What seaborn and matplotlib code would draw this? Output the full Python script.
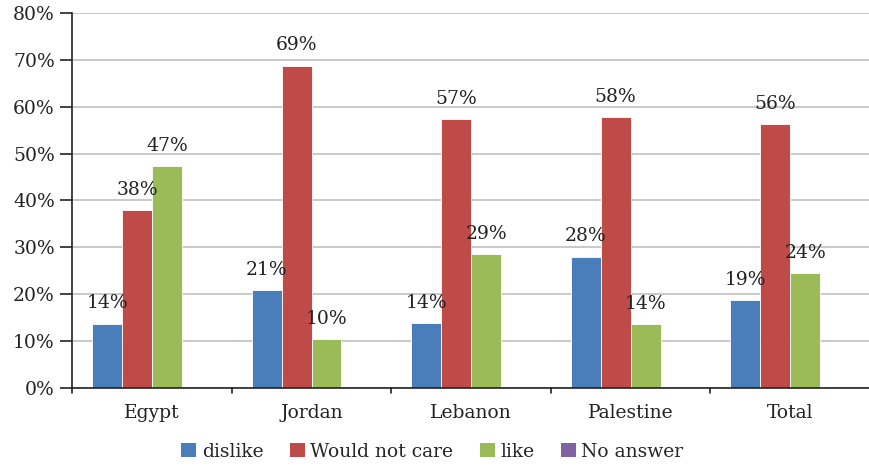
import matplotlib
matplotlib.use("Agg")
import matplotlib.pyplot as plt
import seaborn as sns
import pandas as pd
from matplotlib.patches import Patch

categories = ["Egypt", "Jordan", "Lebanon", "Palestine", "Total"]
series = ["dislike", "Would not care", "like", "No answer"]
dislike = [13.7, 20.8, 13.8, 28.0, 18.8]
would_not_care = [38.0, 68.8, 57.3, 57.7, 56.3]
like = [47.3, 10.3, 28.6, 13.6, 24.4]
no_answer = [0, 0, 0, 0, 0]
labels_dislike = ["14%", "21%", "14%", "28%", "19%"]
labels_wnc = ["38%", "69%", "57%", "58%", "56%"]
labels_like = ["47%", "10%", "29%", "14%", "24%"]
yticks = [0, 10, 20, 30, 40, 50, 60, 70, 80]
colors = ["#4A7EBB", "#BE4B48", "#9BBB59", "#7F63A2"]

rows = []
for vals, s in zip([dislike, would_not_care, like, no_answer], series):
    for c, v in zip(categories, vals):
        rows.append({"cat": c, "series": s, "value": v})
df = pd.DataFrame(rows)

sns.set_style("white")
plt.rcParams["font.family"] = ["DejaVu Serif"]

fig, ax = plt.subplots(figsize=(8.7, 4.66), dpi=100)
fig.subplots_adjust(left=0.083, right=1.0, top=0.972, bottom=0.168)

sns.barplot(data=df, x="cat", y="value", hue="series", palette=colors,
            order=categories, hue_order=series, width=0.75, gap=0,
            saturation=1, ax=ax, legend=False, errorbar=None,
            edgecolor="white", linewidth=0.6, zorder=3)

ax.set_ylim(0, 80)
ax.set_xlim(-0.5, 4.5)
ax.set_yticks(yticks)
ax.set_yticklabels([f"{t}%" for t in yticks], fontsize=13.5, color="#222222")
ax.tick_params(axis="x", labelsize=13.5, length=0, pad=12, colors="#222222")
ax.tick_params(axis="y", length=9, width=1.2, direction="out", left=True, colors="#222222")
ax.yaxis.grid(True, color="#C0C0C0", linewidth=1.2, zorder=0)
ax.set_axisbelow(True)
ax.set_xlabel("")
ax.set_ylabel("")
for sp in ["top", "right"]:
    ax.spines[sp].set_visible(False)
for sp in ["left", "bottom"]:
    ax.spines[sp].set_color("#222222")
    ax.spines[sp].set_linewidth(1.2)
ax.spines["bottom"].set_zorder(5)

# category boundary ticks
for xb in [-0.5, 0.5, 1.5, 2.5, 3.5]:
    ax.plot([xb, xb], [0, -1.2], color="#222222", lw=1.2, clip_on=False)

all_labels = [labels_dislike, labels_wnc, labels_like]
for cont, labs in zip(ax.containers[:3], all_labels):
    ax.bar_label(cont, labels=labs, padding=8, fontsize=13.5, color="#222222")

handles = [Patch(facecolor=c, edgecolor="none") for c in colors]
fig.legend(handles, series, loc="lower center", ncol=4, frameon=False,
           fontsize=13.5, bbox_to_anchor=(0.497, -0.025), handlelength=0.8,
           handleheight=0.8, handletextpad=0.3, columnspacing=1.4)

fig.savefig("out.png", dpi=100)
